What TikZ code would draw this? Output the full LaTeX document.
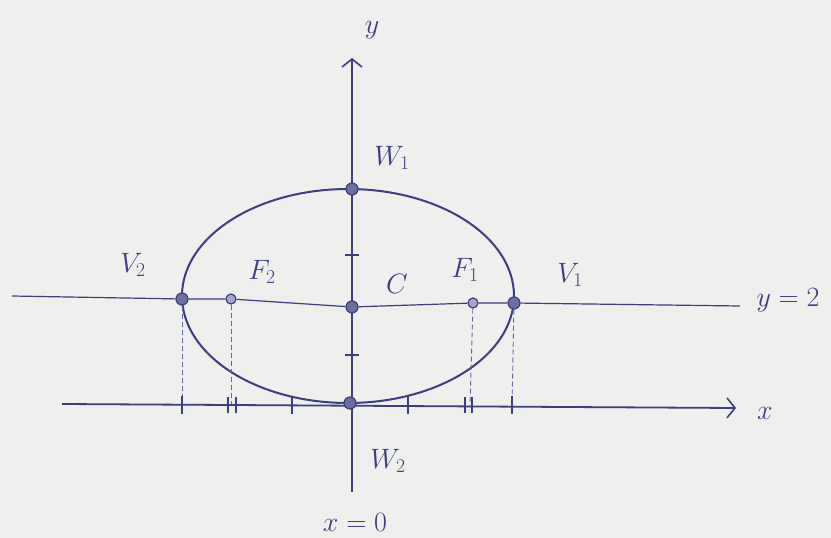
\RequirePackage{fix-cm}
\documentclass[tikz,border=0pt]{standalone}
\usepackage{xcolor}
\definecolor{ink}{RGB}{60, 62, 128}
\definecolor{paper}{RGB}{239, 239, 237}
\usetikzlibrary{arrows.meta,positioning}
\pgfdeclarelayer{paperlayer}
\pgfdeclarelayer{inklayer}
\pgfsetlayers{paperlayer,inklayer,main}

\begin{document}
\begin{tikzpicture}[
  x=1pt, y=-1pt,
  dot/.style={circle, draw=ink, fill=ink!75, line width=1.2pt, minimum size=12pt, inner sep=0pt},
  smalldot/.style={dot, minimum size=10pt, fill=ink!45},
  lbl/.style={text=ink, font=\fontsize{28}{32}\selectfont, inner sep=1pt},
  axis/.style={-{Straight Barb[length=8pt, width=20pt, line width=1.6pt]}, line width=1.8pt, color=ink},
  curve/.style={line width=2pt, color=ink},
  guide/.style={dashed, dash pattern=on 5pt off 3pt, line width=0.9pt, color=ink!80},
  tickmark/.style={line width=2pt, color=ink}
]
\useasboundingbox (0,0) rectangle (831,538);
\begin{pgfonlayer}{paperlayer}
  \fill[paper] (0,0) rectangle (831,538);
\end{pgfonlayer}

% points
\node[dot] (V2) at (182,299) {};
\node[smalldot] (F2) at (231,299) {};
\node[dot] (C) at (352,307) {};
\node[smalldot] (F1) at (473,303) {};
\node[dot] (V1) at (514,303) {};
\node[dot] (W1) at (352,189) {};
\node[dot] (W2) at (350,403) {};

% labels
\node[lbl] (ylab) at (372,30) {$y$};
\node[lbl] (W1lab) at (392,158) {$W_1$};
\node[lbl] (Clab) at (397,284) {$C$};
\node[lbl] (W2lab) at (388,461) {$W_2$};
\node[lbl] (V2lab) at (133,265) {$V_2$};
\node[lbl] (F2lab) at (262,272) {$F_2$};
\node[lbl] (F1lab) at (465,270) {$F_1$};
\node[lbl] (V1lab) at (570,275) {$V_1$};
\node[lbl] (xlab) at (765,413) {$x$};
\node[lbl] (l2lab) at (788,300) {$y=2$};
\node[lbl] (x0lab) at (355,522) {$x=0$};

% axes and lines
\coordinate (xw) at (62,404);
\coordinate (xe) at (736,408);
\coordinate (ys) at (352,492);
\coordinate (yn) at (352,58);
\coordinate (lw) at (12,296);
\coordinate (le) at (740,306);

\coordinate (tV2) at (182,404);
\coordinate (tF2) at (231,404);
\coordinate (tF1) at (470,406);
\coordinate (tV1) at (512,406);

\begin{pgfonlayer}{inklayer}
  \draw[axis] (xw) -- (xe);
  \draw[axis] (ys) -- (yn);
  \draw[line width=1.2pt, color=ink] (lw) -- (V2) -- (F2) -- (C) -- (F1) -- (V1) -- (le);
  \draw[curve] (348,296) ellipse [x radius=166pt, y radius=107pt];

  \draw[guide] (V2) -- (tV2);
  \draw[guide] (F2) -- (tF2);
  \draw[guide] (F1) -- (tF1);
  \draw[guide] (V1) -- (tV1);

  % ticks
  \foreach \tx in {182,292,408,512}
    \draw[tickmark] (\tx,396) -- (\tx,414);
  \foreach \tx in {228,236,465,472}
    \draw[tickmark] (\tx,397) -- (\tx,413);
  \foreach \ty in {255,355}
    \draw[tickmark] (345,\ty) -- (359,\ty);
\end{pgfonlayer}
\end{tikzpicture}
\end{document}
